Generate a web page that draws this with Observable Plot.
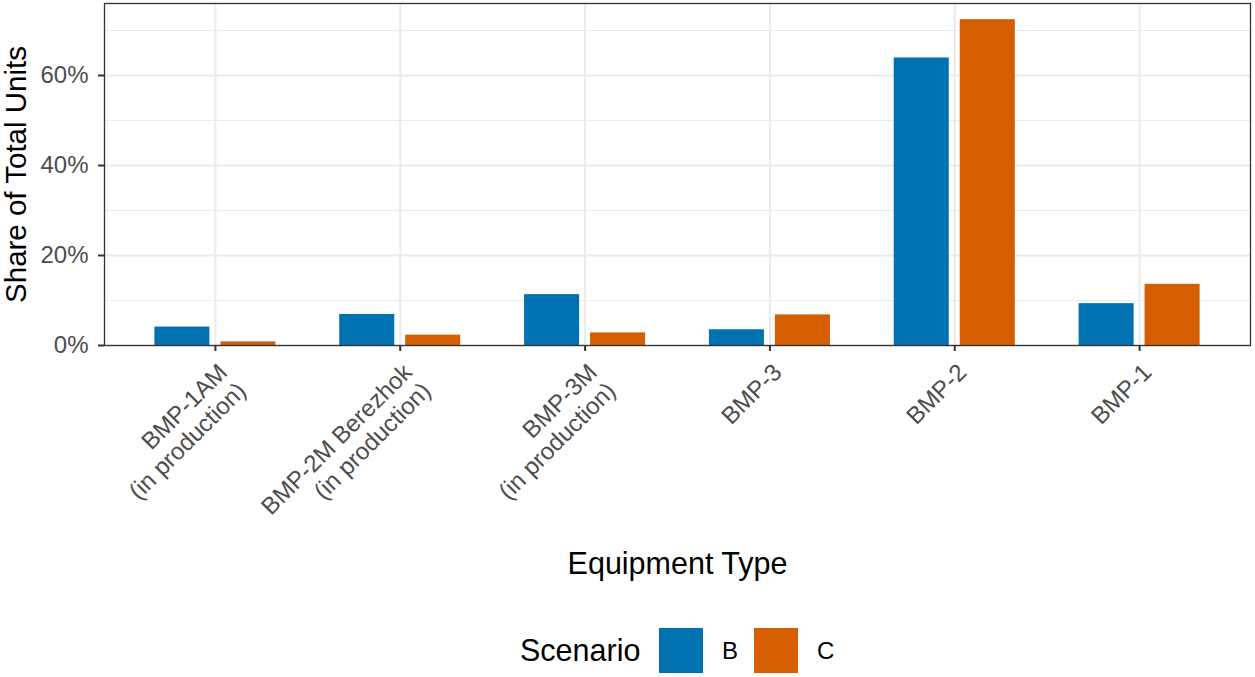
<!DOCTYPE html>
<html><head><meta charset="utf-8">
<script src="https://cdn.jsdelivr.net/npm/d3@7"></script>
<script src="https://cdn.jsdelivr.net/npm/@observablehq/plot@0.6"></script>
<style>
body{margin:0;background:#fff;font-family:"Liberation Sans",Arial,sans-serif;position:relative;width:1255px;height:677px;overflow:hidden;}
#legend{position:absolute;left:0;top:628px;height:45px;width:1255px;}
#legend .t{position:absolute;top:0;line-height:45px;color:#000;}
#legend .k{position:absolute;top:0;width:44px;height:45px;}
</style></head><body><div id="chart"></div><div id="legend"></div><script>
const equipment = ["BMP-1AM\n(in production)", "BMP-2M Berezhok\n(in production)", "BMP-3M\n(in production)", "BMP-3", "BMP-2", "BMP-1"];
const scenarios = ["B", "C"];
const shareB = [4.1, 6.9, 11.3, 3.5, 63.9, 9.3];
const shareC = [0.8, 2.3, 2.8, 6.8, 72.4, 13.6];
const colors = ["#0072B2", "#D55E00"];
const yTicks = [0, 20, 40, 60];
const yMinor = [10, 30, 50, 70];
const xTitle = "Equipment Type";
const yTitle = "Share of Total Units";
const legendTitle = "Scenario";

const rows = equipment.flatMap((e, i) => [
  {equipment: e, scenario: scenarios[0], share: shareB[i]},
  {equipment: e, scenario: scenarios[1], share: shareC[i]}
]);
const font = "Liberation Sans, Arial, sans-serif";

const chart = Plot.plot({
  width: 1255, height: 610,
  marginLeft: 104, marginRight: 5, marginTop: 3, marginBottom: 265,
  style: {fontFamily: font, background: "#fff"},
  x: {domain: equipment, paddingInner: 0, paddingOuter: 0.1, round: false, axis: null},
  y: {domain: [0, 76], axis: null},
  color: {domain: scenarios, range: colors},
  marks: [
    Plot.gridY(yMinor, {stroke: "#ebebeb", strokeOpacity: 1, strokeWidth: 1}),
    Plot.gridY(yTicks, {stroke: "#ebebeb", strokeOpacity: 1, strokeWidth: 2}),
    Plot.gridX({stroke: "#ebebeb", strokeOpacity: 1, strokeWidth: 2}),
    Plot.barY(rows.filter(d => d.scenario === scenarios[0]), {x: "equipment", y: "share", fill: "scenario", insetLeft: 31.9, insetRight: 97.9}),
    Plot.barY(rows.filter(d => d.scenario === scenarios[1]), {x: "equipment", y: "share", fill: "scenario", insetLeft: 97.9, insetRight: 31.9}),
    Plot.frame({stroke: "#333333", strokeWidth: 1.3}),
    Plot.axisY(yTicks, {tickFormat: d => d + "%", tickSize: 6, tickPadding: 10, fontSize: 24, fill: "#4d4d4d", stroke: "#333333", strokeWidth: 2, label: null}),
    Plot.axisX({tickSize: 6, tickFormat: () => "", stroke: "#333333", strokeWidth: 2, label: null}),
    Plot.text(equipment, {x: d => d, frameAnchor: "bottom", rotate: -45, textAnchor: "end", lineAnchor: "top", lineHeight: 1.1, dx: 0, dy: 15, fontSize: 24, fill: "#4d4d4d"}),
    Plot.text([yTitle], {frameAnchor: "left", textAnchor: "middle", rotate: -90, dx: -88, fontSize: 29.5, fill: "#000"}),
    Plot.text([xTitle], {frameAnchor: "bottom", textAnchor: "middle", dy: 228, lineAnchor: "bottom", fontSize: 30.5, fill: "#000"})
  ]
});
document.getElementById("chart").appendChild(chart);

const legend = document.getElementById("legend");
const addT = (txt, left, size) => { const s = document.createElement("div"); s.className = "t"; s.textContent = txt; s.style.left = left + "px"; s.style.fontSize = size + "px"; legend.appendChild(s); };
const addK = (col, left) => { const s = document.createElement("div"); s.className = "k"; s.style.background = col; s.style.left = left + "px"; legend.appendChild(s); };
addT(legendTitle, 520, 30.5);
addK(colors[0], 659); addT(scenarios[0], 722, 24);
addK(colors[1], 754); addT(scenarios[1], 817, 24);
</script></body></html>
